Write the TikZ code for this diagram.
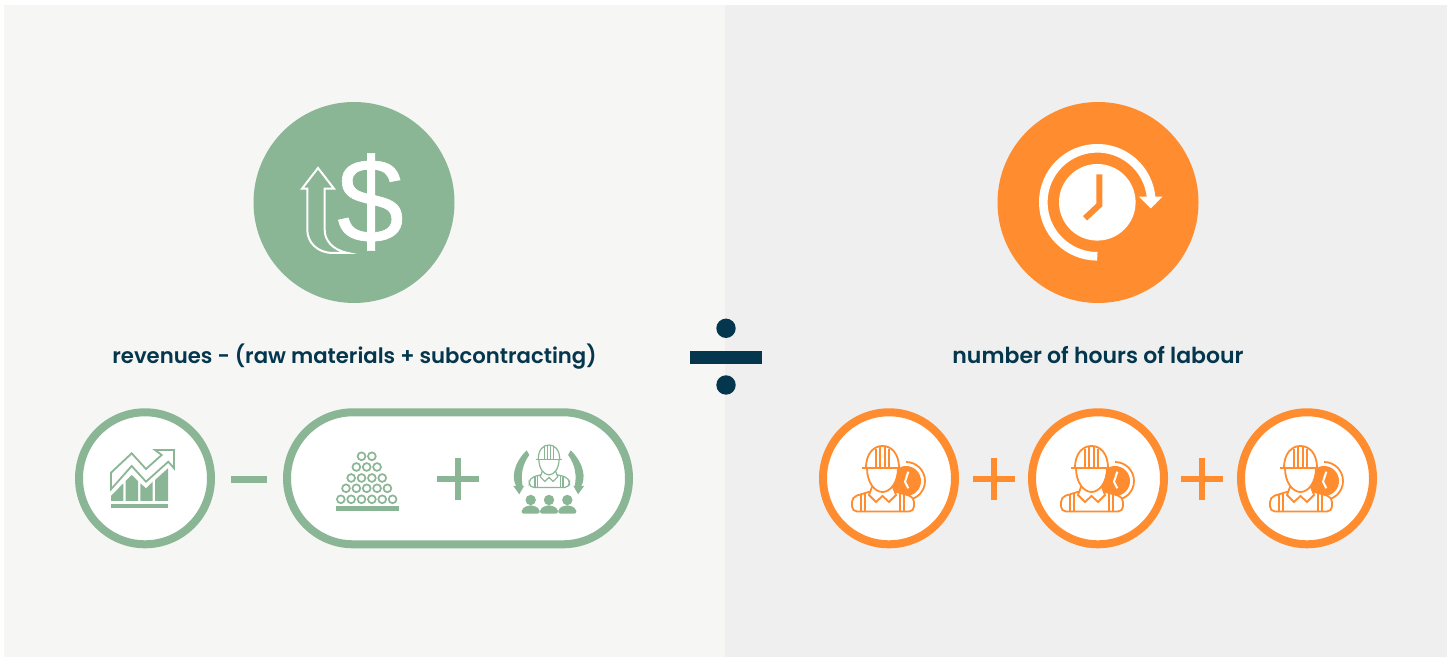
\documentclass[tikz,border=0pt]{standalone}
\usepackage{fontspec}
\setmainfont{Poppins SemiBold}
\newfontfamily\dollarfont[FakeBold=0.5]{Liberation Sans}

\tikzset{
    ringnode/.style={circle, draw=#1, line width=8pt, fill=white, minimum size=132pt, inner sep=0pt},
    bigdisc/.style={circle, fill=#1, minimum size=201pt, inner sep=0pt},
    caption/.style={text=darkteal},
    pics/plussign/.style={code={
        \fill (-21,-3) rectangle (21,3);
        \fill (-3,-21) rectangle (3,21);
    }},
    pics/workerfig/.style={code={
        % body
        \draw[fill=white, rounded corners=5pt] (-37,-33.5) -- (-37,-19) -- (-17,-13) -- (4,-13) -- (25,-19) -- (25,-33.5) -- cycle;
        \draw (-28,-33.5) -- (-28,-17) (-24,-33.5) -- (-24,-15.5) (11,-33.5) -- (11,-15.5) (15,-33.5) -- (15,-17);
        % collar
        \draw[fill=white] (-17,-9) -- (-20,-17) -- (-13,-24) -- (-6.5,-18) -- (0,-24) -- (7,-17) -- (4,-9) -- cycle;
        % face
        \draw[fill=white] (-22,10) .. controls (-22,-5) and (-14,-14) .. (-6.5,-14) .. controls (1,-14) and (9,-5) .. (9,10);
        % helmet
        \draw[fill=white] (-23,10) .. controls (-23,25) and (-15,32) .. (-6.5,32) .. controls (2,32) and (10,25) .. (10,10);
        \draw (-27,10) -- (14,10);
        \draw (-13,10) -- (-13,29) (-9,10) -- (-9,31.5) (-4,10) -- (-4,31.5) (0,10) -- (0,29);
    }},
    pics/workerclock/.style={code={
        \fill (17,-3) circle (15);
        \draw (17,16) arc (90:-125:19);
        \draw[white, line width=2pt] (19.3,6.3) -- (16,-3.7) -- (19.3,-10.3);
    }},
    pics/turnarrow/.style={code={
        \fill (-22,28.7) .. controls (-36,15) and (-37,0) .. (-32.5,-7) -- (-26,-7) .. controls (-28,2) and (-27,14) .. (-19.4,24) -- cycle;
        \fill (-35.4,-7) -- (-24.7,-7) -- (-29.4,-15.3) -- cycle;
    }},
    pics/personfig/.style={code={
        \fill (0,0) circle (5.2);
        \fill[rounded corners=2pt] (-9,-13.6) -- (-9,-9) -- (-3,-5.5) -- (3,-5.5) -- (9,-9) -- (9,-13.6) -- cycle;
    }},
}

\begin{document}
\begin{tikzpicture}[x=1pt, y=1pt]
        \definecolor{leftbg}{RGB}{246,246,244}
        \definecolor{rightbg}{RGB}{239,239,239}
        \definecolor{sagegreen}{RGB}{138,182,150}
        \definecolor{brightorange}{RGB}{255,141,48}
        \definecolor{darkteal}{RGB}{4,54,77}

        \useasboundingbox (0,0) rectangle (1452,658);
        \fill[leftbg] (4,1) rectangle (725,653);
        \fill[rightbg] (725,1) rectangle (1447,653);

        % top discs
        \node[bigdisc=sagegreen] (moneydisc) at (354,455.5) {};
        \node[bigdisc=brightorange] (timedisc) at (1098,455.5) {};

        % dollar + rising arrow
        \node[text=white, font=\dollarfont\fontsize{120}{120}\selectfont, inner sep=0pt] (dollar) at (370.5,456) {\$};
        \draw[white, line width=2pt, line join=miter] (318,490) -- (334,469.3) -- (324.7,469.3) -- (324.7,428) .. controls (324.7,418) and (332,408) .. (348,405) -- (333.3,405) .. controls (317,405) and (307.3,416) .. (307.3,428) -- (307.3,469.3) -- (302,469.3) -- cycle;

        % clock
        \fill[white] (1097.3,455.7) circle (38.3);
        \draw[brightorange, line width=6pt] (1099.3,483.7) -- (1099.3,453) -- (1085,439.7);
        \draw[white, line width=8.6pt] (1097.3,401.7) arc (270:-2:54);
        \fill[white] (1139,461.3) -- (1162.3,461.3) -- (1150.7,449.7) -- cycle;

        % captions
        \node[caption, font=\fontsize{21.2}{26}\selectfont] (revenuetext) at (354.5,301.5) {revenues - (raw materials + subcontracting)};
        \node[caption, font=\fontsize{22}{26}\selectfont] (hourstext) at (1098,303) {number of hours of labour};

        % division sign
        \fill[darkteal] (726,329.7) circle (9.7);
        \fill[darkteal] (726,273) circle (9.7);
        \fill[darkteal] (690,294) rectangle (762,307);

        % left row
        \node[ringnode=sagegreen] (chartring) at (145,179.7) {};
        \fill[sagegreen] (231,175) rectangle (267,182);
        \node[draw=sagegreen, line width=8pt, fill=white, rounded corners=66pt, minimum width=342pt, minimum height=132pt, inner sep=0pt] (pillbox) at (458,179.7) {};

        % chart icon
        \fill[sagegreen] (111,150) rectangle (168,154);
        \fill[sagegreen] (111,157) -- (111,162) -- (123.3,174.7) -- (123.3,157) -- cycle;
        \fill[sagegreen] (125.7,157) -- (125.7,177) -- (131.7,183) -- (138,177) -- (138,157) -- cycle;
        \fill[sagegreen] (140.3,157) -- (140.3,174.7) -- (146,169.7) -- (152.7,176.3) -- (152.7,157) -- cycle;
        \fill[sagegreen] (155,157) -- (155,178) -- (168,189.7) -- (168,157) -- cycle;
        \draw[sagegreen, line width=1.8pt] (111,185.3) -- (131.7,204.7) -- (146,189) -- (161.7,203) -- (155,208) -- (174,208) -- (174,189.7) -- (168.3,196.3) -- (146,176.3) -- (131.7,192) -- (111,168.7) -- cycle;

        % pile of pipes
        \fill[sagegreen] (336,147) rectangle (399,152);
        \foreach \rowy/\rowcount in {158.7/6, 169.7/5, 180/4, 191/3, 201.7/2} {
            \foreach \k in {1,...,\rowcount} {
                \draw[sagegreen, line width=1.7pt] ({366.7+10.35*(\k-(\rowcount+1)/2)},\rowy) circle (3.9);
            }
        }
        \pic[color=sagegreen] (plusone) at (458,178.5) {plussign};

        % supervisor icon
        \pic[color=sagegreen, scale=0.65, line width=1.2pt] (foreman) at (553.2,192.2) {workerfig};
        \pic[color=sagegreen] (turnleft) at (548.7,179) {turnarrow};
        \pic[color=sagegreen, xscale=-1] (turnright) at (548.7,179) {turnarrow};
        \foreach \px [count=\i] in {530.7,549,567.3} {
            \pic[color=sagegreen] (crew\i) at (\px,158) {personfig};
        }

        % right row
        \foreach \cx/\nm in {889/first, 1098/second, 1307/third} {
            \node[ringnode=brightorange] (\nm ring) at (\cx,179.7) {};
            \pic[color=brightorange, line width=1.8pt] (\nm clock) at (\cx,180) {workerclock};
            \pic[color=brightorange, line width=1.8pt] (\nm worker) at (\cx,180) {workerfig};
        }
        \pic[color=brightorange] (plustwo) at (994,178.5) {plussign};
        \pic[color=brightorange] (plusthree) at (1202,178.5) {plussign};

\end{tikzpicture}
\end{document}
